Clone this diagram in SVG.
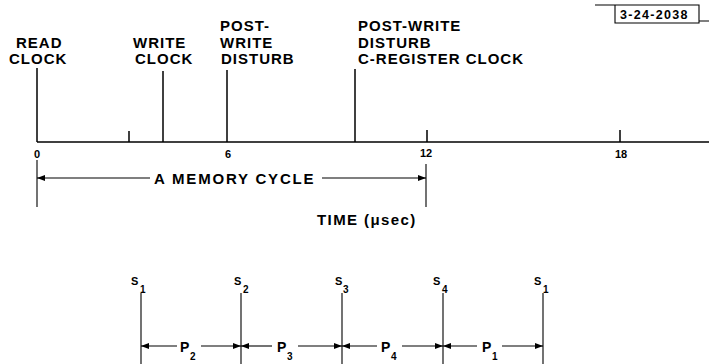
<svg xmlns="http://www.w3.org/2000/svg" width="709" height="364" viewBox="0 0 709 364">
<style>
.ln{stroke:#000;stroke-width:1.5;fill:none}
.tn{stroke:#000;stroke-width:1.1;fill:none}
.lb{font-family:"Liberation Sans",Arial,sans-serif;font-weight:bold;font-size:15px;letter-spacing:1px;fill:#000}
.num{font-family:"Liberation Sans",Arial,sans-serif;font-weight:bold;font-size:11px;fill:#000}
.sl{font-family:"Liberation Sans",Arial,sans-serif;font-weight:bold;font-size:11px;fill:#000}
.pl{font-family:"Liberation Sans",Arial,sans-serif;font-weight:bold;font-size:14px;fill:#000}
.sub{font-family:"Liberation Sans",Arial,sans-serif;font-weight:bold;font-size:10px;fill:#000}
</style>
<defs>
<marker id="ah" viewBox="0 0 8 6" refX="8" refY="3" markerWidth="8" markerHeight="6" markerUnits="userSpaceOnUse" orient="auto-start-reverse">
<path d="M0,0 L8,3 L0,6 Z" fill="#000"/>
</marker>
</defs>
<g id="title-block">
<path class="tn" d="M595,5 H699 V23 H615 V5 M699,21 H709"/>
<text x="620" y="19" class="num" style="font-size:12.5px;letter-spacing:1.3px">3-24-2038</text>
</g>
<g id="axis">
<path class="ln" d="M37,142 H709"/>
<path class="ln" d="M129,131 V142 M427,130 V142 M620,130 V142"/>
<text x="37" y="158" class="num" text-anchor="middle">0</text>
<text x="228" y="158" class="num" text-anchor="middle">6</text>
<text x="426" y="157" class="num" text-anchor="middle">12</text>
<text x="621" y="158" class="num" text-anchor="middle">18</text>
</g>
<g id="read-clock">
<path class="ln" d="M37,68 V142"/>
<text class="lb" x="16" y="48">READ</text>
<text class="lb" x="9" y="64">CLOCK</text>
</g>
<g id="write-clock">
<path class="ln" d="M163,71 V142"/>
<text class="lb" x="133" y="48">WRITE</text>
<text class="lb" x="135" y="64">CLOCK</text>
</g>
<g id="post-write-disturb">
<path class="ln" d="M227,70 V142"/>
<text class="lb" x="220" y="31">POST-</text>
<text class="lb" x="220" y="48">WRITE</text>
<text class="lb" x="221" y="64">DISTURB</text>
</g>
<g id="c-register-clock">
<path class="ln" d="M355,69 V142"/>
<text class="lb" x="358" y="31">POST-WRITE</text>
<text class="lb" x="358" y="48">DISTURB</text>
<text class="lb" x="358" y="64">C-REGISTER CLOCK</text>
</g>
<g id="memory-cycle">
<path class="tn" d="M37,160 V207 M426,164 V207"/>
<path class="tn" d="M150,178 H37" marker-end="url(#ah)"/>
<path class="tn" d="M322,178 H426" marker-end="url(#ah)"/>
<text class="lb" x="154" y="184" style="letter-spacing:1.8px">A MEMORY CYCLE</text>
<text class="lb" x="317" y="225" style="letter-spacing:1.4px">TIME (μsec)</text>
</g>
<g id="s-lines">
<path class="tn" d="M141,293 V364 M241,293 V364 M342,293 V364 M443,293 V364 M543,293 V364"/>
<text class="sl" x="131" y="285">S</text><text class="sub" x="140" y="293">1</text>
<text class="sl" x="234" y="285">S</text><text class="sub" x="243" y="293">2</text>
<text class="sl" x="335" y="285">S</text><text class="sub" x="343" y="293">3</text>
<text class="sl" x="433" y="285">S</text><text class="sub" x="442" y="293">4</text>
<text class="sl" x="534" y="285">S</text><text class="sub" x="543" y="293">1</text>
</g>
<g id="connectors">
<path class="tn" d="M177,346 H141" marker-end="url(#ah)"/>
<path class="tn" d="M201,346 H241" marker-end="url(#ah)"/>
<path class="tn" d="M272,346 H241" marker-end="url(#ah)"/>
<path class="tn" d="M298,346 H342" marker-end="url(#ah)"/>
<path class="tn" d="M377,346 H342" marker-end="url(#ah)"/>
<path class="tn" d="M402,346 H443" marker-end="url(#ah)"/>
<path class="tn" d="M477,346 H443" marker-end="url(#ah)"/>
<path class="tn" d="M502,346 H543" marker-end="url(#ah)"/>
</g>
<g id="p-labels">
<text class="pl" x="180" y="352">P</text><text class="sub" x="190" y="360">2</text>
<text class="pl" x="277" y="352">P</text><text class="sub" x="287" y="360">3</text>
<text class="pl" x="381" y="352">P</text><text class="sub" x="391" y="360">4</text>
<text class="pl" x="482" y="352">P</text><text class="sub" x="492" y="360">1</text>
</g>
</svg>
